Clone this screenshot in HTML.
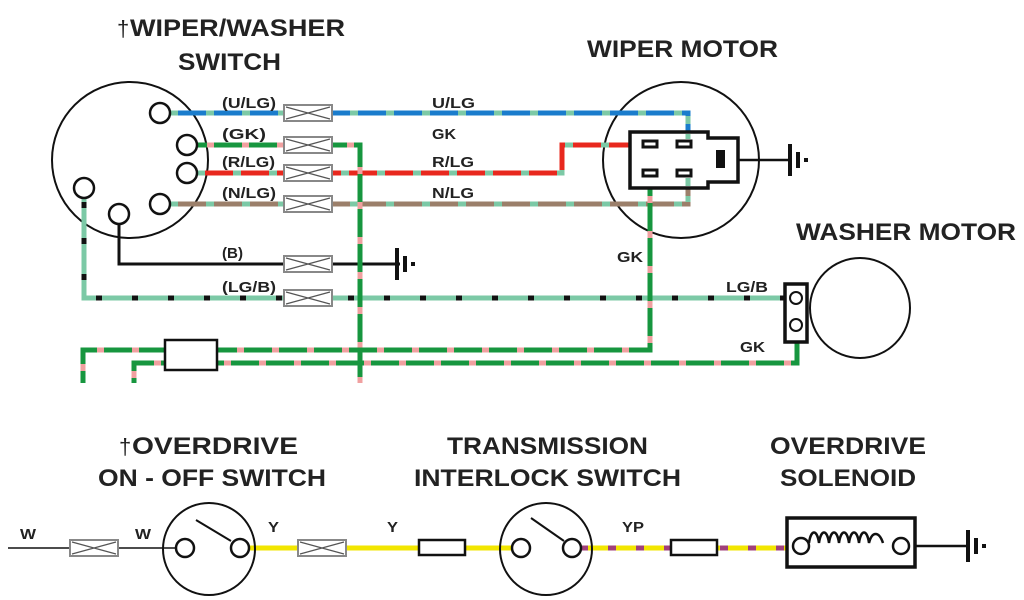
<!DOCTYPE html>
<html><head><meta charset="utf-8"><style>
html,body{margin:0;padding:0;background:#fff;}
svg{display:block;}
text{font-family:"Liberation Sans",sans-serif;font-weight:bold;fill:#222;}
</style></head><body>
<svg width="1024" height="600" viewBox="0 0 1024 600" xmlns="http://www.w3.org/2000/svg">
<defs>
<g id="fuse">
<rect x="0" y="-8" width="48" height="16" fill="#fff" stroke="#888" stroke-width="2"/>
<path d="M2,-6 L46,6 M2,6 L46,-6" stroke="#555" stroke-width="1.2"/>
</g>
<g id="gnd">
<path d="M0,-16 V16" stroke="#111" stroke-width="4"/>
<path d="M8,-8 V8" stroke="#111" stroke-width="4"/>
<rect x="14" y="-2" width="4" height="4" fill="#111"/>
</g>
</defs>

<!-- Titles -->
<g font-size="24" lengthAdjust="spacingAndGlyphs">
<text x="130" y="36" textLength="215" lengthAdjust="spacingAndGlyphs">WIPER/WASHER</text>
<text x="178" y="70" textLength="103" lengthAdjust="spacingAndGlyphs">SWITCH</text>
<text x="587" y="57" textLength="191" lengthAdjust="spacingAndGlyphs">WIPER MOTOR</text>
<text x="796" y="240" textLength="220" lengthAdjust="spacingAndGlyphs">WASHER MOTOR</text>
<text x="132" y="454" textLength="166" lengthAdjust="spacingAndGlyphs">OVERDRIVE</text>
<text x="98" y="486" textLength="228" lengthAdjust="spacingAndGlyphs">ON - OFF SWITCH</text>
<text x="447" y="454" textLength="201" lengthAdjust="spacingAndGlyphs">TRANSMISSION</text>
<text x="414" y="486" textLength="267" lengthAdjust="spacingAndGlyphs">INTERLOCK SWITCH</text>
<text x="770" y="454" textLength="156" lengthAdjust="spacingAndGlyphs">OVERDRIVE</text>
<text x="780" y="486" textLength="136" lengthAdjust="spacingAndGlyphs">SOLENOID</text>
</g>
<text x="117" y="36" font-size="22" style="font-weight:normal">†</text>
<text x="119" y="454" font-size="22" style="font-weight:normal">†</text>

<!-- circles -->
<circle cx="130" cy="160" r="78" fill="none" stroke="#111" stroke-width="2"/>
<circle cx="681" cy="160" r="78" fill="none" stroke="#111" stroke-width="2"/>
<circle cx="860" cy="308" r="50" fill="none" stroke="#111" stroke-width="2"/>

<g fill="none" stroke-width="5" stroke-linejoin="miter">
<polyline points="170,113 688,113 688,135" stroke="#1a7ccc"/>
<polyline points="170,113 688,113 688,135" stroke="#7cc9a6" stroke-dasharray="8 28"/>
<polyline points="170,204 688,204 688,180" stroke="#9b7f6a"/>
<polyline points="170,204 688,204 688,180" stroke="#7cc9a6" stroke-dasharray="8 28"/>
<polyline points="197,173 562,173 562,145 636,145" stroke="#e8281e"/>
<polyline points="197,173 562,173 562,145 636,145" stroke="#7cc9a6" stroke-dasharray="8 28"/>
<polyline points="84,198 84,298 786,298" stroke="#7cc9a6"/>
<polyline points="84,198 84,298 786,298" stroke="#111" stroke-dasharray="6 30" stroke-dashoffset="-4"/>
<polyline points="119,224 119,264 400,264" stroke="#111" stroke-width="3"/>
<polyline points="197,145 360,145 360,383" stroke="#17963f"/>
<polyline points="197,145 360,145 360,383" stroke="#f0a0a0" stroke-dasharray="7 28" stroke-dashoffset="-10"/>
<polyline points="83,383 83,350 650,350 650,182" stroke="#17963f"/>
<polyline points="83,383 83,350 650,350 650,182" stroke="#f0a0a0" stroke-dasharray="7 28" stroke-dashoffset="-12"/>
<polyline points="134,383 134,363 797,363 797,330" stroke="#17963f"/>
<polyline points="134,383 134,363 797,363 797,330" stroke="#f0a0a0" stroke-dasharray="7 28" stroke-dashoffset="-5"/>
</g>
<rect x="165" y="340" width="52" height="30" fill="#fff" stroke="#111" stroke-width="2.5"/>

<use href="#fuse" x="284" y="113"/>
<use href="#fuse" x="284" y="145"/>
<use href="#fuse" x="284" y="173"/>
<use href="#fuse" x="284" y="204"/>
<use href="#fuse" x="284" y="264"/>
<use href="#fuse" x="284" y="298"/>
<use href="#gnd" x="397" y="264"/>

<g fill="#fff" stroke="#111" stroke-width="2.5">
<circle cx="160" cy="113" r="10"/>
<circle cx="187" cy="145" r="10"/>
<circle cx="187" cy="173" r="10"/>
<circle cx="160" cy="204" r="10"/>
<circle cx="84" cy="188" r="10"/>
<circle cx="119" cy="214" r="10"/>
</g>

<g font-size="15">
<text x="222" y="108" textLength="54" lengthAdjust="spacingAndGlyphs">(U/LG)</text>
<text x="222" y="139" textLength="44" lengthAdjust="spacingAndGlyphs">(GK)</text>
<text x="222" y="167" textLength="53" lengthAdjust="spacingAndGlyphs">(R/LG)</text>
<text x="222" y="198" textLength="54" lengthAdjust="spacingAndGlyphs">(N/LG)</text>
<text x="222" y="258" textLength="21" lengthAdjust="spacingAndGlyphs">(B)</text>
<text x="222" y="292" textLength="54" lengthAdjust="spacingAndGlyphs">(LG/B)</text>
<text x="432" y="108" textLength="43" lengthAdjust="spacingAndGlyphs">U/LG</text>
<text x="432" y="139" textLength="24" lengthAdjust="spacingAndGlyphs">GK</text>
<text x="432" y="167" textLength="42" lengthAdjust="spacingAndGlyphs">R/LG</text>
<text x="432" y="198" textLength="42" lengthAdjust="spacingAndGlyphs">N/LG</text>
<text x="617" y="262" textLength="26" lengthAdjust="spacingAndGlyphs">GK</text>
<text x="726" y="292" textLength="42" lengthAdjust="spacingAndGlyphs">LG/B</text>
<text x="740" y="352" textLength="25" lengthAdjust="spacingAndGlyphs">GK</text>
<text x="20" y="539" textLength="16" lengthAdjust="spacingAndGlyphs">W</text>
<text x="135" y="539" textLength="16" lengthAdjust="spacingAndGlyphs">W</text>
<text x="268" y="532" textLength="11" lengthAdjust="spacingAndGlyphs">Y</text>
<text x="387" y="532" textLength="11" lengthAdjust="spacingAndGlyphs">Y</text>
<text x="622" y="532" textLength="22" lengthAdjust="spacingAndGlyphs">YP</text>
</g>

<path d="M630,132 H708 V138 H738 V182 H708 V188 H630 Z" fill="#fff" stroke="#111" stroke-width="3.5"/>
<g fill="#fff" stroke="#111" stroke-width="3">
<rect x="643" y="141" width="14" height="6"/>
<rect x="677" y="141" width="14" height="6"/>
<rect x="643" y="170" width="14" height="6"/>
<rect x="677" y="170" width="14" height="6"/>
</g>
<rect x="716" y="150" width="9" height="18" fill="#111"/>
<path d="M738,160 H790" stroke="#111" stroke-width="2.5"/>
<use href="#gnd" x="790" y="160"/>
<path d="M688,116 V139 M688,178 V202" stroke="#7cc9a6" stroke-width="5" stroke-dasharray="8 10"/>

<rect x="785" y="284" width="22" height="58" fill="#fff" stroke="#111" stroke-width="3.5"/>
<circle cx="796" cy="298" r="6" fill="#fff" stroke="#111" stroke-width="2"/>
<circle cx="796" cy="325" r="6" fill="#fff" stroke="#111" stroke-width="2"/>

<path d="M8,548 H180" stroke="#111" stroke-width="1.5"/>
<use href="#fuse" x="70" y="548"/>
<path d="M240,548 H520" stroke="#f2e600" stroke-width="5"/>
<use href="#fuse" x="298" y="548"/>
<rect x="419" y="540" width="46" height="15" fill="#fff" stroke="#111" stroke-width="2.5"/>
<path d="M580,548 H794" stroke="#f2e600" stroke-width="5"/>
<path d="M580,548 H794" stroke="#a0407a" stroke-width="5" stroke-dasharray="8 20"/>
<rect x="671" y="540" width="46" height="15" fill="#fff" stroke="#111" stroke-width="2.5"/>

<circle cx="209" cy="549" r="46" fill="none" stroke="#111" stroke-width="2"/>
<circle cx="546" cy="549" r="46" fill="none" stroke="#111" stroke-width="2"/>
<g fill="#fff" stroke="#111" stroke-width="2.5">
<circle cx="185" cy="548" r="9"/>
<circle cx="240" cy="548" r="9"/>
<circle cx="521" cy="548" r="9"/>
<circle cx="572" cy="548" r="9"/>
</g>
<path d="M196,520 L231,541 M531,518 L564,541" stroke="#111" stroke-width="2"/>

<rect x="787" y="518" width="128" height="49" fill="#fff" stroke="#111" stroke-width="3.5"/>
<circle cx="801" cy="546" r="8" fill="#fff" stroke="#111" stroke-width="2.5"/>
<circle cx="901" cy="546" r="8" fill="#fff" stroke="#111" stroke-width="2.5"/>
<path d="M809,543 c2,-14 8,-14 10,0 c2,-14 8,-14 10,0 c2,-14 8,-14 10,0 c2,-14 8,-14 10,0 c2,-14 8,-14 10,0 c2,-14 8,-14 10,0 c3,-12 10,-12 14,0" fill="none" stroke="#111" stroke-width="2.5"/>
<path d="M915,546 H968" stroke="#111" stroke-width="2.5"/>
<use href="#gnd" x="968" y="546"/>
</svg>
</body></html>
